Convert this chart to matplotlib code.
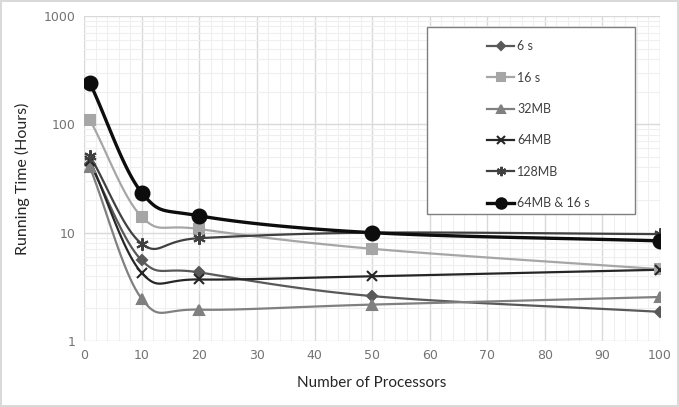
import numpy as np
import matplotlib
matplotlib.use("Agg")
import matplotlib.pyplot as plt
from matplotlib.patches import Rectangle
from matplotlib.ticker import MultipleLocator, LogLocator, NullFormatter, FixedLocator

plt.rcParams['font.family'] = ['Lato', 'DejaVu Sans']

procs = [1, 10, 20, 50, 100]
t_6s = [43, 5.55, 4.3, 2.6, 1.86]
t_16s = [110, 14.0, 10.8, 7.1, 4.6]
t_32mb = [40, 2.45, 1.95, 2.17, 2.55]
t_64mb = [46, 4.25, 3.7, 3.96, 4.55]
t_128mb = [51, 7.9, 8.9, 10.0, 9.7]
t_both = [240, 23.4, 14.3, 10.0, 8.4]

labels = ["6 s", "16 s", "32MB", "64MB", "128MB", "64MB & 16 s"]
series = [t_6s, t_16s, t_32mb, t_64mb, t_128mb, t_both]
colors = ["#595959", "#a6a6a6", "#808080", "#262626", "#404040", "#0d0d0d"]
markers = ["D", "s", "^", "x", (6, 2, 0), "o"]
msizes = [5, 7, 7, 7, 9, 10]
lwidths = [1.6, 1.6, 1.6, 1.6, 1.6, 2.4]


def smooth(x, y, n=30):
    # catmull-rom through the points, in (x, log y) space like excel's smoothed line
    px = np.array(x, float)
    py = np.log10(np.array(y, float))
    px = np.concatenate([[2 * px[0] - px[1]], px, [2 * px[-1] - px[-2]]])
    py = np.concatenate([[2 * py[0] - py[1]], py, [2 * py[-1] - py[-2]]])
    xs, ys = [], []
    for i in range(1, len(px) - 2):
        t = np.linspace(0, 1, n)
        for p, out in ((px, xs), (py, ys)):
            p0, p1, p2, p3 = p[i - 1], p[i], p[i + 1], p[i + 2]
            out.extend(0.5 * ((2 * p1) + (-p0 + p2) * t
                              + (2 * p0 - 5 * p1 + 4 * p2 - p3) * t ** 2
                              + (-p0 + 3 * p1 - 3 * p2 + p3) * t ** 3))
    return np.array(xs), 10 ** np.array(ys)


fig = plt.figure(figsize=(6.79, 4.07), dpi=100)
fig.patch.set_edgecolor("#d9d9d9")
fig.patch.set_linewidth(1.5)
ax = fig.add_axes([0.124, 0.162, 0.848, 0.799])

handles = []
for lab, ys, c, m, ms, lw in zip(labels, series, colors, markers, msizes, lwidths):
    sx, sy = smooth(procs, ys)
    ax.plot(sx, sy, color=c, lw=lw, zorder=3)
    ax.plot(procs, ys, ls="none", marker=m, ms=ms, color=c, mew=1.5, zorder=4)
    h, = ax.plot([], [], color=c, lw=lw, marker=m, ms=ms, mew=1.5)
    handles.append(h)

ax.set_yscale("log")
ax.set_xlim(0, 100)
ax.set_ylim(1, 1000)
ax.xaxis.set_major_locator(MultipleLocator(10))
ax.xaxis.set_minor_locator(MultipleLocator(2))
ax.yaxis.set_major_locator(FixedLocator([1, 10, 100, 1000]))
ax.yaxis.set_minor_locator(LogLocator(base=10, subs=np.arange(2, 10)))
ax.yaxis.set_minor_formatter(NullFormatter())
ax.set_yticklabels(["1", "10", "100", "1000"])

ax.grid(which="major", color="#d9d9d9", lw=1.0, zorder=0)
ax.grid(which="minor", color="#efefef", lw=0.8, zorder=0)
ax.set_axisbelow(True)
for s in ax.spines.values():
    s.set_visible(False)
ax.tick_params(which="both", length=0, labelsize=9, colors="#737373", pad=6)
for t in ax.get_xticklabels() + ax.get_yticklabels():
    t.set_family(["DejaVu Sans"])

ax.set_xlabel("Number of Processors", fontsize=11, color="#262626", labelpad=10)
ax.set_ylabel("Running Time (Hours)", fontsize=11.5, color="#262626", labelpad=10)

ax.add_patch(Rectangle((0.595, 0.391), 0.362, 0.575, transform=ax.transAxes,
                       facecolor="white", edgecolor="#7f7f7f", lw=1.0, zorder=5))
leg = ax.legend(handles, labels, loc="upper left", bbox_to_anchor=(0.68, 0.96),
                frameon=False, fontsize=9, labelspacing=1.55, handlelength=2.2,
                handletextpad=0.2, labelcolor="#404040", markerscale=0.75)
leg.set_zorder(6)

fig.savefig("out.png", dpi=100)
